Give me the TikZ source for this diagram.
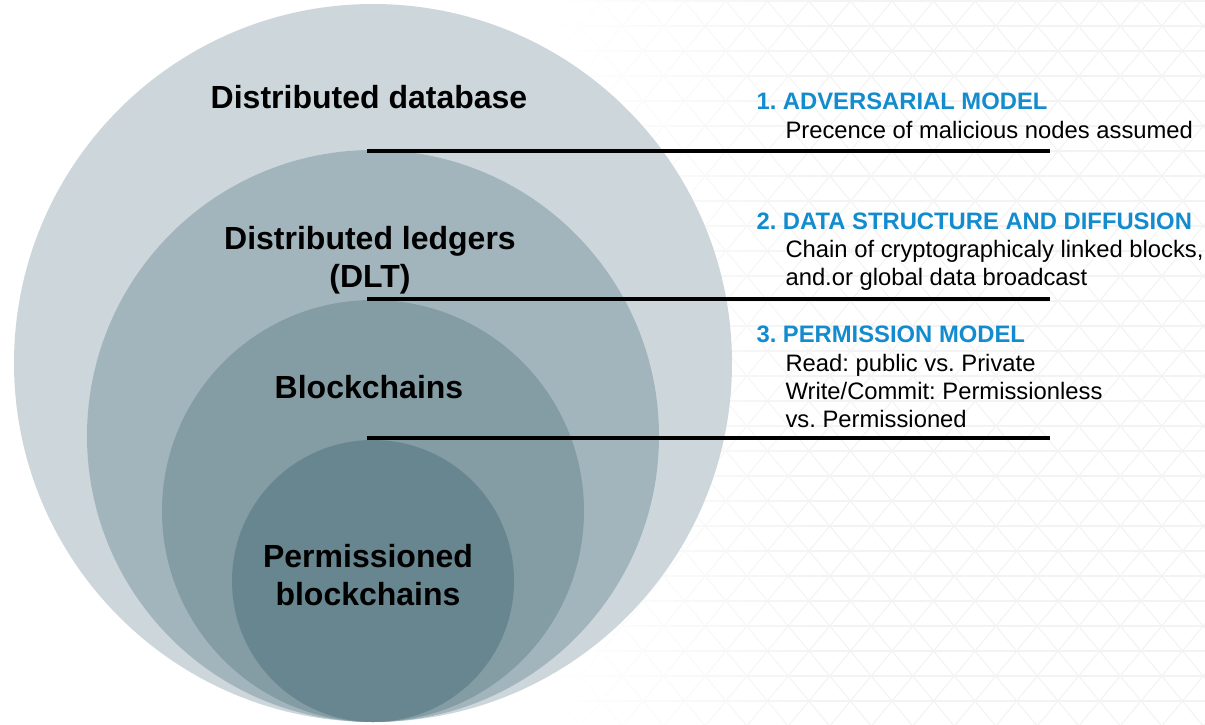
\documentclass[tikz,border=0pt]{standalone}
\usepackage{fontspec}
\setmainfont{Liberation Sans}
\usetikzlibrary{fadings}

\definecolor{ringA}{RGB}{205,215,219}
\definecolor{ringB}{RGB}{163,181,188}
\definecolor{ringC}{RGB}{132,156,163}
\definecolor{ringD}{RGB}{104,134,143}
\definecolor{headblue}{RGB}{18,140,206}
\definecolor{gridgray}{RGB}{243,243,243}

\tikzfading[name=fadetoright, left color=transparent!0, right color=transparent!100]

\tikzset{
  grid line/.style={draw=gridgray, line width=1.1pt},
  ring/.style={circle, inner sep=0pt, draw=none},
  setlabel/.style={anchor=base, align=center, text=black,
    font=\fontsize{32}{38}\selectfont\bfseries\frenchspacing},
  headline/.style={anchor=base west, text=headblue,
    font=\fontsize{23.8}{28}\selectfont\bfseries\frenchspacing},
  bodytext/.style={anchor=base west, align=left, text=black,
    font=\fontsize{23.8}{28}\selectfont\frenchspacing},
  divider/.style={draw=black, line width=3.5pt}
}

\begin{document}
\begin{tikzpicture}[x=1pt, y=-1pt]
\useasboundingbox (0,0) rectangle (1205,725);

% faint triangular lattice in the background, fading out to the left
\begin{scope}
  \clip (560,0) rectangle (1205,725);
  \foreach \r in {0,...,29}
    \draw[grid line] (560,1+25*\r) -- (1205,1+25*\r);
  \foreach \k in {-16,...,32} {
    \draw[grid line] (560+41.5*\k,1) -- ++(601.75,725);
    \draw[grid line] (560+41.5*\k,1) -- ++(-601.75,725);
  }
  \fill[white, path fading=fadetoright] (560,-1) rectangle (830,726);
\end{scope}

% nested sets, all touching at the bottom
\node[ring, fill=ringA, minimum size=718pt] (db)   at (373,363) {};
\node[ring, fill=ringB, minimum size=572pt] (dlt)  at (373,436) {};
\node[ring, fill=ringC, minimum size=422pt] (bc)   at (373,511) {};
\node[ring, fill=ringD, minimum size=282pt] (pbc)  at (373,581) {};

% set names (base anchor = baseline of the last line)
\node[setlabel] (dbname)  at (369,108.5) {Distributed database};
\node[setlabel] (dltname) at (370,287.5) {Distributed ledgers\\(DLT)};
\node[setlabel] (bcname)  at (369,398.5) {Blockchains};
\node[setlabel] (pbcname) at (368,605.5) {Permissioned\\blockchains};

% dividers between the levels
\coordinate (d1s) at (367,151);  \coordinate (d1e) at (1050,151);
\coordinate (d2s) at (367,299);  \coordinate (d2e) at (1050,299);
\coordinate (d3s) at (367,438);  \coordinate (d3e) at (1050,438);
\draw[divider] (d1s) -- (d1e);
\draw[divider] (d2s) -- (d2e);
\draw[divider] (d3s) -- (d3e);

% criteria separating the levels
\node[headline] (h1) at (753,110) {1. ADVERSARIAL MODEL};
\node[bodytext] (b1) at (782,138) {Precence of malicious nodes assumed};

\node[headline] (h2) at (753,229) {2. DATA STRUCTURE AND DIFFUSION};
\node[bodytext] (b2) at (782,285) {Chain of cryptographicaly linked blocks,\\and.or global data broadcast};

\node[headline] (h3) at (753,342) {3. PERMISSION MODEL};
\node[bodytext] (b3) at (782,427) {Read: public vs. Private\\Write/Commit: Permissionless\\vs. Permissioned};
\end{tikzpicture}
\end{document}
